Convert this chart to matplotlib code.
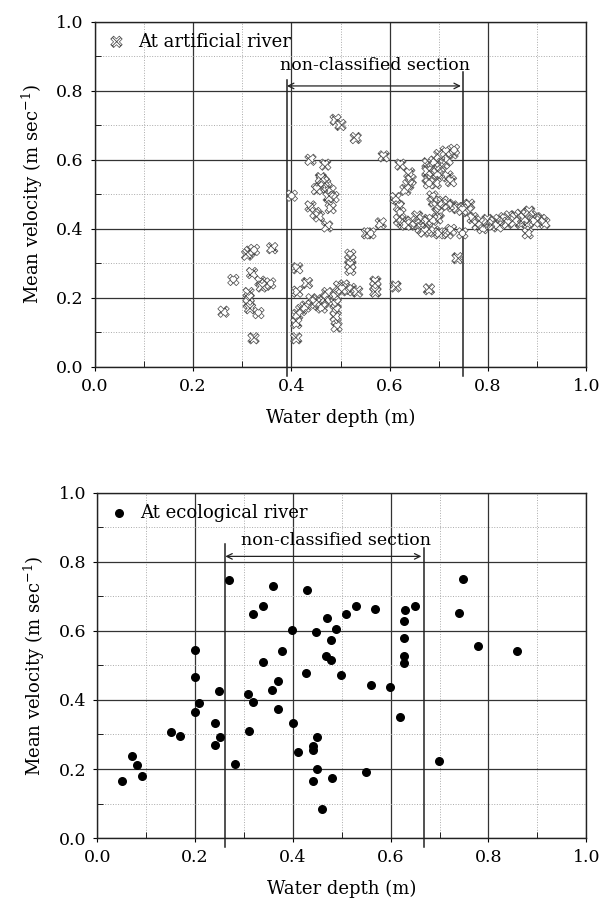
import matplotlib
matplotlib.use("Agg")
import matplotlib.pyplot as plt
from matplotlib.ticker import MultipleLocator

plt.rcParams["font.family"] = ["DejaVu Serif"]
plt.rcParams["mathtext.fontset"] = "dejavuserif"
plt.rcParams["hatch.linewidth"] = 0.6

# 人工河川 (artificial river)
depth_art = [
    0.490, 0.500, 0.531, 0.439, 0.469,
    0.462, 0.469, 0.458, 0.472, 0.480, 0.452, 0.466, 0.460,
    0.486, 0.476, 0.401, 0.439, 0.449, 0.456, 0.480, 0.473, 0.554, 0.561, 0.582, 0.588,
    0.316, 0.310, 0.324, 0.361, 0.282, 0.320, 0.337, 0.347, 0.357, 0.340,
    0.313, 0.313, 0.313, 0.316, 0.333, 0.262, 0.323,
    0.412, 0.432, 0.412, 0.420, 0.412, 0.410, 0.410, 0.429,
    0.441, 0.452, 0.459, 0.466, 0.456, 0.470, 0.449, 0.462,
    0.473, 0.490, 0.490, 0.490, 0.490, 0.492,
    0.497, 0.507, 0.521, 0.534, 0.514, 0.503,
    0.520, 0.520, 0.520, 0.520,
    0.571, 0.571, 0.571, 0.612,
    0.622, 0.640, 0.643, 0.638, 0.632,
    0.612, 0.619, 0.622, 0.619, 0.626,
    0.677, 0.684, 0.691, 0.684, 0.677, 0.687, 0.697, 0.704, 0.711, 0.718,
    0.728, 0.731, 0.718, 0.725, 0.694, 0.680, 0.677, 0.691, 0.701, 0.714,
    0.687, 0.690, 0.697,
    0.708, 0.718, 0.728, 0.738, 0.752, 0.762, 0.759, 0.748,
    0.700, 0.697,
    0.656, 0.667, 0.677, 0.687, 0.653, 0.663, 0.643, 0.633,
    0.670, 0.691, 0.701, 0.718, 0.725,
    0.748, 0.738,
    0.769, 0.779, 0.789, 0.786,
    0.799, 0.813, 0.823, 0.833, 0.844, 0.854, 0.867, 0.878, 0.888, 0.898,
    0.908, 0.915, 0.867, 0.881, 0.895, 0.810, 0.820, 0.840, 0.854, 0.874, 0.884,
    0.881, 0.680,
]
vel_art = [
    0.716, 0.701, 0.663, 0.600, 0.586,
    0.540, 0.530, 0.520, 0.520, 0.510, 0.515, 0.536, 0.547,
    0.492, 0.492, 0.496, 0.465, 0.446, 0.436, 0.460, 0.407, 0.387, 0.387, 0.416, 0.610,
    0.334, 0.325, 0.339, 0.344, 0.252, 0.272, 0.247, 0.238, 0.242, 0.233,
    0.214, 0.199, 0.184, 0.170, 0.156, 0.160, 0.083,
    0.286, 0.243, 0.218, 0.165, 0.151, 0.127, 0.083, 0.175,
    0.196, 0.193, 0.186, 0.188, 0.179, 0.199, 0.186, 0.172,
    0.214, 0.204, 0.184, 0.165, 0.146, 0.117,
    0.233, 0.236, 0.226, 0.218, 0.222, 0.226,
    0.325, 0.310, 0.296, 0.281,
    0.247, 0.233, 0.218, 0.233,
    0.586, 0.561, 0.542, 0.528, 0.513,
    0.489, 0.465, 0.446, 0.426, 0.417,
    0.590, 0.581, 0.571, 0.557, 0.547, 0.542, 0.561, 0.581, 0.590, 0.600,
    0.619, 0.629, 0.552, 0.538, 0.532, 0.532, 0.567, 0.595, 0.614, 0.624,
    0.494, 0.479, 0.465,
    0.479, 0.470, 0.465, 0.460, 0.460, 0.470, 0.451, 0.455,
    0.446, 0.430,
    0.436, 0.426, 0.421, 0.426, 0.412, 0.402, 0.421, 0.412,
    0.392, 0.392, 0.387, 0.387, 0.397,
    0.387, 0.315,
    0.431, 0.412, 0.402, 0.421,
    0.426, 0.421, 0.426, 0.431, 0.436, 0.436, 0.441, 0.441, 0.436, 0.431,
    0.426, 0.417, 0.417, 0.417, 0.421, 0.412, 0.407, 0.417, 0.421, 0.431, 0.450,
    0.387, 0.225,
]

# 生態河川 (ecological river)
depth_eco = [
    0.270, 0.360, 0.429, 0.749, 0.319, 0.339, 0.469, 0.509, 0.529, 0.569,
    0.629, 0.650, 0.739, 0.628, 0.398, 0.448, 0.488, 0.479, 0.628, 0.778,
    0.858, 0.199, 0.378, 0.339, 0.468, 0.479, 0.628, 0.628, 0.199, 0.428,
    0.499, 0.559, 0.599, 0.249, 0.369, 0.358, 0.309, 0.319, 0.208, 0.200,
    0.369, 0.620, 0.401, 0.241, 0.151, 0.170, 0.311, 0.251, 0.450, 0.241,
    0.441, 0.441, 0.410, 0.071, 0.081, 0.281, 0.700, 0.091, 0.051, 0.450,
    0.550, 0.481, 0.441, 0.460,
]
vel_eco = [
    0.747, 0.729, 0.720, 0.751, 0.649, 0.671, 0.637, 0.650, 0.671, 0.663,
    0.662, 0.673, 0.652, 0.628, 0.603, 0.596, 0.606, 0.574, 0.579, 0.555,
    0.542, 0.544, 0.541, 0.510, 0.528, 0.516, 0.528, 0.507, 0.467, 0.478,
    0.472, 0.442, 0.437, 0.425, 0.455, 0.430, 0.416, 0.395, 0.391, 0.366,
    0.373, 0.352, 0.333, 0.332, 0.308, 0.296, 0.309, 0.292, 0.293, 0.269,
    0.268, 0.256, 0.249, 0.238, 0.211, 0.215, 0.224, 0.181, 0.166, 0.199,
    0.190, 0.174, 0.166, 0.083,
]

ticks = [0.0, 0.2, 0.4, 0.6, 0.8, 1.0]
section_art = (0.391, 0.750)
section_eco = (0.262, 0.668)

fig = plt.figure(figsize=(6.0, 9.06), dpi=100)
ax1 = fig.add_axes([0.158, 0.595, 0.819, 0.381])
ax2 = fig.add_axes([0.162, 0.075, 0.815, 0.381])


def setup(ax):
    ax.set_xlim(0, 1)
    ax.set_ylim(0, 1)
    ax.set_xticks(ticks)
    ax.set_yticks(ticks)
    ax.set_xticklabels([f"{t:.1f}" for t in ticks])
    ax.set_yticklabels([f"{t:.1f}" for t in ticks])
    ax.xaxis.set_minor_locator(MultipleLocator(0.1))
    ax.yaxis.set_minor_locator(MultipleLocator(0.1))
    ax.grid(True, which="major", color="#333333", lw=0.9)
    ax.grid(True, which="minor", color="#aaaaaa", lw=0.7, ls=":")
    ax.set_axisbelow(True)
    ax.tick_params(which="major", direction="out", length=3, labelsize=12.5, pad=5)
    ax.tick_params(which="minor", direction="in", length=4)
    for s in ax.spines.values():
        s.set_linewidth(1.0)
        s.set_color("#222222")
    ax.set_xlabel("Water depth (m)", fontsize=13, labelpad=10)
    ax.set_ylabel("Mean velocity (m sec$^{-1}$)", fontsize=13, labelpad=8)


def section(ax, x0, x1, top0, top1, ya, xtxt, ytxt):
    ax.plot([x0, x0], [-0.025, top0], color="#222222", lw=1.1, clip_on=False)
    ax.plot([x1, x1], [-0.025, top1], color="#222222", lw=1.1, clip_on=False)
    ax.annotate("", xy=(x0, ya), xytext=(x1 - 0.005, ya),
                arrowprops=dict(arrowstyle="<->", lw=0.9, color="#222222",
                                shrinkA=0, shrinkB=0))
    ax.text(xtxt, ytxt, "non-classified section", ha="center",
            va="center", fontsize=12.5)


setup(ax1)
ax1.scatter(depth_art, vel_art, marker="X", s=68, facecolor="white",
            edgecolor="#4a4a4a", linewidths=0.5, hatch="xxxx",
            label="At artificial river", zorder=3)
section(ax1, section_art[0], section_art[1], 0.831, 0.855, 0.814, 0.570, 0.874)

setup(ax2)
ax2.scatter(depth_eco, vel_eco, marker="o", s=30, color="black",
            label="At ecological river", zorder=3)
section(ax2, section_eco[0], section_eco[1], 0.852, 0.840, 0.816, 0.489, 0.862)

for ax in (ax1, ax2):
    ax.legend(loc="upper left", frameon=False, fontsize=13, scatterpoints=1,
              handletextpad=0.6, borderaxespad=0.2, handlelength=1.2)

plt.savefig("out.png", dpi=100)
